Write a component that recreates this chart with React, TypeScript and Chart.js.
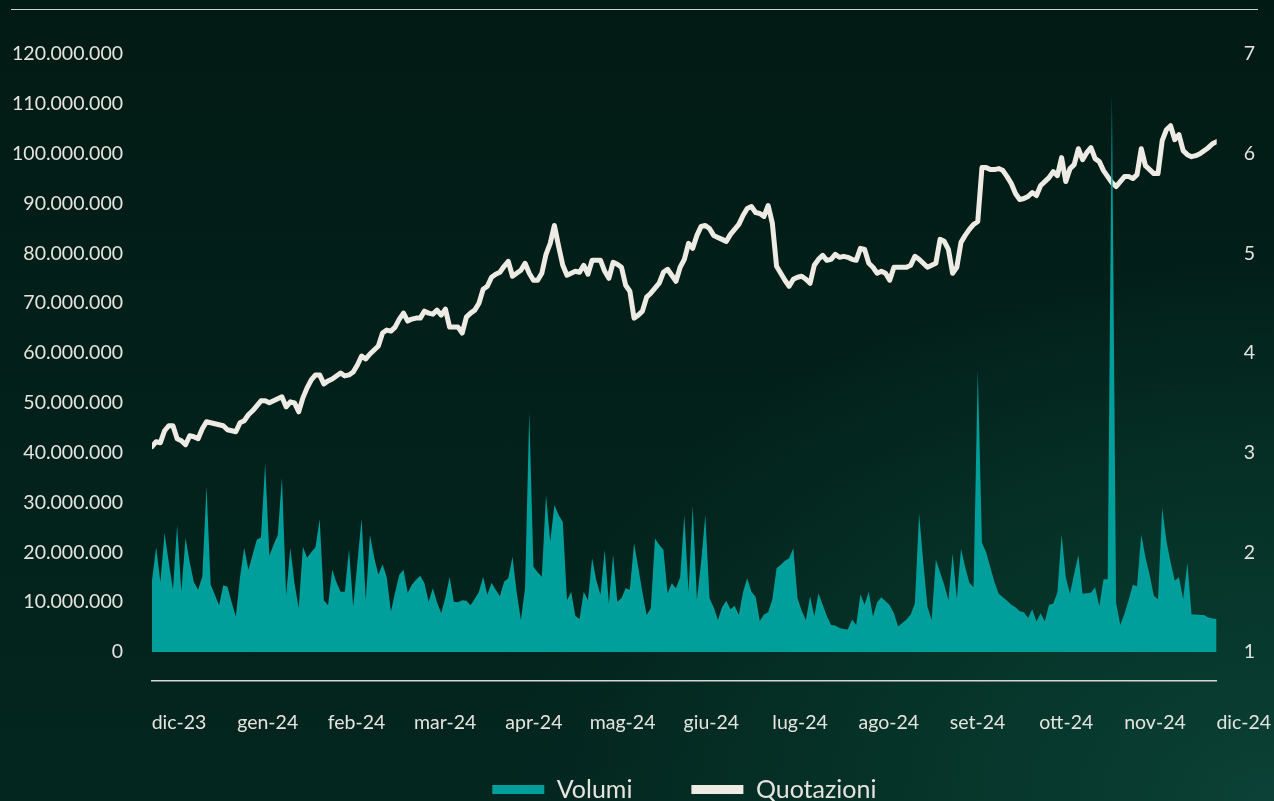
import React, { useEffect, useRef } from "react";
import { Chart, registerables } from "chart.js";

Chart.register(...registerables);

// Month tick labels (evenly spaced along the x axis)
const mesi = ["dic-23", "gen-24", "feb-24", "mar-24", "apr-24", "mag-24", "giu-24", "lug-24", "ago-24", "set-24", "ott-24", "nov-24", "dic-24"];

// Left axis ticks (volumes) and right axis ticks (price)
const ticksVolumi = [0, 10e6, 20e6, 30e6, 40e6, 50e6, 60e6, 70e6, 80e6, 90e6, 100e6, 110e6, 120e6];
const ticksQuotazioni = [1, 2, 3, 4, 5, 6, 7];

// Daily traded volumes, in millions of shares
const volumiMln = [
  14.4, 21, 14, 23.9, 18, 12.5, 25.5, 12.1, 22.9, 18,
  14, 12.5, 15.1, 33.2, 13.5, 11.5, 9.4, 13.4, 13.1, 10,
  7.1, 15, 20.9, 16.5, 19.5, 22.5, 23, 38, 19.3, 21.5,
  23.5, 35, 11.4, 20.9, 13.8, 8.8, 21.1, 18.9, 20, 21,
  26.7, 10.4, 9.4, 16.5, 14, 12.1, 12.1, 20.6, 9.1, 18,
  26.8, 10.4, 23.5, 19, 15.5, 17.6, 15, 8.1, 12, 15.5,
  16.5, 11.9, 13.5, 14.5, 15.3, 13.8, 10.1, 12.8, 10, 7.8,
  11, 15.1, 10.1, 10, 10.4, 10.3, 9.4, 10.7, 12.1, 15.1,
  11.5, 13.9, 12.5, 11.2, 14.1, 14.8, 19.1, 12, 6.4, 12.8,
  48.2, 17.1, 16, 15.1, 31.5, 22.1, 29.5, 27.5, 26.1, 10.4,
  12.1, 7.2, 6.6, 12.1, 10.4, 18.8, 14.4, 11.5, 20.5, 9.7,
  19.5, 10.1, 10.8, 12.8, 12.5, 21.8, 17, 12, 7.4, 8.8,
  22.8, 21.5, 20.5, 11.8, 13.8, 12.8, 15, 27.5, 12, 29.3,
  10.4, 18, 27.5, 10.8, 9, 6.4, 9, 10.3, 8.6, 9.3,
  7.4, 12, 14.8, 12.1, 11.1, 6.2, 7.5, 8, 10.6, 16.8,
  17.5, 18.3, 18.8, 20.8, 10.8, 8.3, 6.4, 11.2, 7.1, 11.8,
  9.5, 7.2, 5.4, 5.3, 4.8, 4.6, 4.5, 6.5, 5.4, 11.6,
  9.5, 12.1, 7.1, 10, 11, 10.2, 9.4, 7.8, 5.1, 5.8,
  6.5, 7.5, 9.8, 27.8, 18, 9.1, 6.4, 18.5, 16, 13.5,
  10.4, 19.8, 10.6, 20.7, 17, 13.9, 13, 56.6, 21.9, 20,
  17, 14, 11.7, 11, 10.3, 9.5, 9, 8.2, 8, 6.8,
  8.6, 6.1, 7.8, 6.1, 9.5, 9.7, 12, 23.6, 15, 11.7,
  15.7, 19.4, 11.7, 11.8, 11.9, 13, 9.2, 14.6, 14.6, 112,
  9.9, 5.4, 7.7, 10.5, 13.5, 13.2, 23.6, 19, 15.5, 11.3,
  10.6, 28.9, 22.3, 18, 14.3, 15, 10.6, 17.9, 7.5, 7.5,
  7.4, 7.4, 6.9, 6.7, 6.6,
];

// Daily closing price (EUR)
const quotazioni = [
  3.06, 3.11, 3.10, 3.22, 3.27, 3.27, 3.14, 3.12, 3.08, 3.17,
  3.16, 3.14, 3.24, 3.31, 3.30, 3.29, 3.28, 3.27, 3.23, 3.22,
  3.21, 3.30, 3.32, 3.38, 3.42, 3.47, 3.52, 3.52, 3.50, 3.52,
  3.54, 3.56, 3.46, 3.51, 3.50, 3.41, 3.55, 3.65, 3.73, 3.78,
  3.78, 3.69, 3.72, 3.74, 3.77, 3.80, 3.77, 3.78, 3.81, 3.88,
  3.97, 3.94, 3.99, 4.03, 4.07, 4.20, 4.23, 4.22, 4.26, 4.34,
  4.40, 4.32, 4.34, 4.35, 4.35, 4.42, 4.40, 4.39, 4.43, 4.38,
  4.44, 4.26, 4.26, 4.26, 4.20, 4.36, 4.40, 4.43, 4.50, 4.64,
  4.67, 4.76, 4.79, 4.81, 4.87, 4.92, 4.77, 4.80, 4.83, 4.90,
  4.80, 4.73, 4.73, 4.80, 4.99, 5.10, 5.28, 5.07, 4.88, 4.78,
  4.80, 4.82, 4.81, 4.88, 4.79, 4.93, 4.93, 4.93, 4.82, 4.75,
  4.91, 4.89, 4.86, 4.68, 4.62, 4.35, 4.38, 4.42, 4.56, 4.60,
  4.65, 4.70, 4.81, 4.84, 4.78, 4.72, 4.86, 4.94, 5.10, 5.05,
  5.18, 5.27, 5.28, 5.25, 5.18, 5.16, 5.14, 5.12, 5.19, 5.24,
  5.29, 5.38, 5.45, 5.47, 5.41, 5.40, 5.37, 5.48, 5.30, 4.87,
  4.80, 4.73, 4.67, 4.74, 4.76, 4.77, 4.74, 4.70, 4.88, 4.94,
  4.98, 4.93, 4.94, 4.99, 4.96, 4.97, 4.96, 4.94, 4.93, 5.05,
  5.04, 4.90, 4.86, 4.80, 4.82, 4.80, 4.73, 4.86, 4.86, 4.86,
  4.86, 4.88, 4.97, 4.94, 4.90, 4.86, 4.88, 4.90, 5.14, 5.12,
  5.04, 4.80, 4.86, 5.11, 5.18, 5.24, 5.29, 5.32, 5.86, 5.86,
  5.84, 5.84, 5.85, 5.83, 5.77, 5.70, 5.60, 5.54, 5.55, 5.57,
  5.61, 5.58, 5.68, 5.72, 5.76, 5.82, 5.78, 5.96, 5.72, 5.85,
  5.89, 6.05, 5.94, 6.01, 6.06, 5.95, 5.92, 5.83, 5.77, 5.71,
  5.67, 5.72, 5.77, 5.77, 5.75, 5.79, 6.05, 5.88, 5.84, 5.80,
  5.80, 6.13, 6.24, 6.28, 6.14, 6.19, 6.03, 5.99, 5.97, 5.98,
  6.00, 6.03, 6.06, 6.10, 6.12,
];

const TEAL = "#009f9b";
const LINE = "#eeebe5";
const TEXT = "#e6e4de";
const AXIS = "#d8d6d0";
const FONT = "Lato";
const LEGEND_LIFT = 16;

const fmtThousands = (v: number) => String(Math.round(v)).replace(/\B(?=(\d{3})+(?!\d))/g, ".");

// moves the legend box up a little after layout (legend sits partly over the x-axis band)
const legendLift = {
  id: "legendLift",
  afterLayout(chart: any) {
    const l = chart.legend;
    if (l) {
      l.top -= LEGEND_LIFT;
      l.bottom -= LEGEND_LIFT;
    }
  },
};

export default function App() {
  const canvasRef = useRef<HTMLCanvasElement | null>(null);

  useEffect(() => {
    const canvas = canvasRef.current;
    if (!canvas) return;
    const n = quotazioni.length;
    const swatch = [TEAL, LINE];

    const chart = new Chart(canvas, {
      type: "line",
      data: {
        datasets: [
          {
            label: "Volumi",
            data: volumiMln.map((v, i) => ({ x: i, y: v * 1e6 })),
            yAxisID: "y",
            fill: "origin",
            backgroundColor: TEAL,
            borderColor: TEAL,
            borderWidth: 0,
            pointRadius: 0,
            tension: 0,
            order: 0,
          },
          {
            label: "Quotazioni",
            data: quotazioni.map((v, i) => ({ x: i, y: v })),
            yAxisID: "y1",
            fill: false,
            backgroundColor: LINE,
            borderColor: LINE,
            borderWidth: 5,
            borderJoinStyle: "round",
            borderCapStyle: "round",
            pointRadius: 0,
            tension: 0,
            order: 1,
          },
        ],
      },
      plugins: [legendLift],
      options: {
        animation: false,
        responsive: false,
        maintainAspectRatio: false,
        events: [],
        layout: { padding: { top: 54, left: 0, right: 0, bottom: 0 } },
        scales: {
          x: {
            type: "linear",
            min: 0,
            max: n - 1,
            afterBuildTicks: (s: any) => {
              s.ticks = mesi.map((_, k) => ({ value: (k * (n - 1)) / 12 }));
            },
            afterFit: (s: any) => {
              s.height = 53;
            },
            grid: { display: false, drawTicks: false },
            border: { display: true, color: AXIS, width: 1.5 },
            ticks: {
              autoSkip: false,
              maxRotation: 0,
              padding: 30,
              labelOffset: 27,
              color: TEXT,
              font: { family: FONT, size: 19.5 },
              callback: (_v: any, idx: number) => mesi[idx],
            },
          },
          y: {
            position: "left",
            min: -5.82e6,
            max: 120e6,
            afterBuildTicks: (s: any) => {
              s.ticks = ticksVolumi.map((v) => ({ value: v }));
            },
            afterFit: (s: any) => {
              s.width = 152;
            },
            grid: { display: false, drawTicks: false },
            border: { display: false },
            ticks: {
              padding: 29,
              color: TEXT,
              font: { family: FONT, size: 19.5 },
              callback: (v: any) => fmtThousands(Number(v)),
            },
          },
          y1: {
            position: "right",
            min: 0.709,
            max: 7,
            afterBuildTicks: (s: any) => {
              s.ticks = ticksQuotazioni.map((v) => ({ value: v }));
            },
            afterFit: (s: any) => {
              s.width = 56;
            },
            grid: { display: false, drawTicks: false },
            border: { display: false },
            ticks: {
              padding: 27,
              color: TEXT,
              font: { family: FONT, size: 19.5 },
              callback: (v: any) => String(v),
            },
          },
        },
        plugins: {
          tooltip: { enabled: false },
          legend: {
            position: "bottom",
            fullSize: false,
            labels: {
              boxWidth: 52,
              boxHeight: 9,
              padding: 59,
              color: TEXT,
              font: { family: FONT, size: 25 },
              generateLabels: (c: any) =>
                (Chart.defaults.plugins.legend.labels as any).generateLabels(c).map((l: any) => ({
                  ...l,
                  fillStyle: swatch[l.datasetIndex],
                  strokeStyle: swatch[l.datasetIndex],
                  lineWidth: 0,
                })),
            },
          },
        },
      } as any,
    });

    return () => chart.destroy();
  }, []);

  return (
    <div
      style={{
        position: "fixed",
        left: 0,
        top: 0,
        width: 1274,
        height: 801,
        overflow: "hidden",
        background:
          "radial-gradient(ellipse 75% 85% at 100% 100%, #0b4136 0%, #063328 40%, rgba(3,38,30,0) 80%), linear-gradient(180deg, #021a14 0%, #02221b 60%, #03261f 100%)",
      }}
    >
      <div
        style={{
          position: "absolute",
          left: 11,
          top: 9,
          width: 1247,
          height: 0,
          borderTop: "1.5px solid #cfcec8",
        }}
      />
      <canvas
        ref={canvasRef}
        width={1274}
        height={828}
        style={{ position: "absolute", left: 0, top: 0, display: "block", width: 1274, height: 828 }}
      />
    </div>
  );
}
